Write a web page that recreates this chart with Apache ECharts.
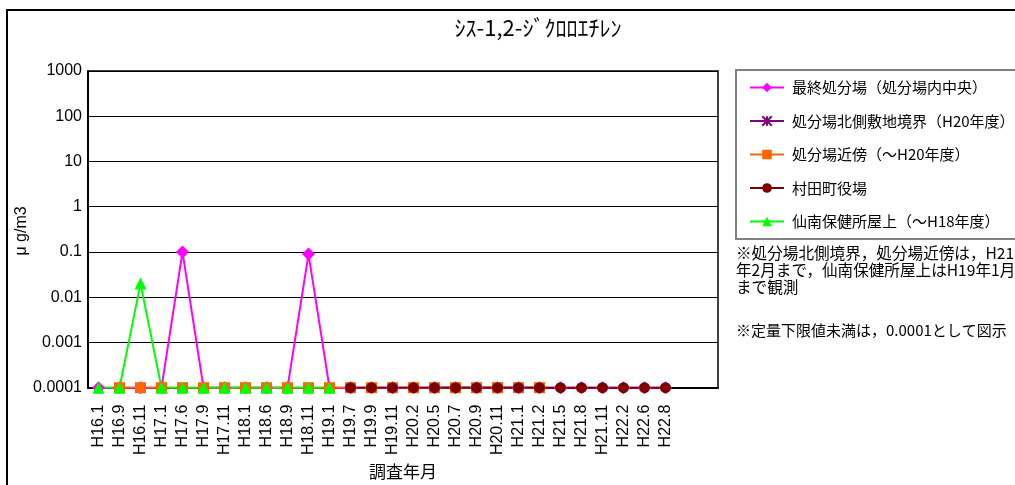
<!DOCTYPE html>
<html>
<head>
<meta charset="utf-8">
<script src="https://cdn.jsdelivr.net/npm/echarts@6/dist/echarts.min.js"></script>
<style>
html,body{margin:0;padding:0;background:#fff;}
#chart{width:1015px;height:485px;}
</style>
</head>
<body>
<div id="chart"></div>
<script>
var categories = ['H16.1','H16.9','H16.11','H17.1','H17.6','H17.9','H17.11','H18.1','H18.6','H18.9','H18.11','H19.1','H19.7','H19.9','H19.11','H20.2','H20.5','H20.7','H20.9','H20.11','H21.1','H21.2','H21.5','H21.8','H21.11','H22.2','H22.6','H22.8','',''];
var yTickLabels = ['0.0001','0.001','0.01','0.1','1','10','100','1000'];
var seriesNames = ['最終処分場（処分場内中央）','処分場北側敷地境界（H20年度）','処分場近傍（～H20年度）','村田町役場','仙南保健所屋上（～H18年度）'];
var finalSite = [0.0001,0.0001,0.0001,0.0001,0.1,0.0001,0.0001,0.0001,0.0001,0.0001,0.09,0.0001,0.0001,0.0001,0.0001,0.0001,0.0001,0.0001,0.0001,0.0001,0.0001,0.0001,0.0001,0.0001,0.0001,0.0001,0.0001,0.0001];
var northBoundary = [null,null,null,null,null,null,null,null,null,null,null,null,null,null,null,null,0.0001,0.0001,0.0001,0.0001,0.0001,0.0001];
var nearSite = [null,0.0001,0.0001,0.0001,0.0001,0.0001,0.0001,0.0001,0.0001,0.0001,0.0001,0.0001,0.0001,0.0001,0.0001,0.0001,0.0001,0.0001,0.0001,0.0001,0.0001,0.0001];
var murataOffice = [null,null,null,null,null,null,null,null,null,null,null,null,0.0001,0.0001,0.0001,0.0001,0.0001,0.0001,0.0001,0.0001,0.0001,0.0001,0.0001,0.0001,0.0001,0.0001,0.0001,0.0001];
var sennanRoof = [0.0001,0.0001,0.02,0.0001,0.0001,0.0001,0.0001,0.0001,0.0001,0.0001,0.0001,0.0001];

var title = 'ｼｽ-1,2-ｼﾞｸﾛﾛｴﾁﾚﾝ';
var yName = 'μ g/m3';
var note1 = ['※処分場北側境界，処分場近傍は，H21', '年2月まで，仙南保健所屋上はH19年1月', 'まで観測'];
var note2 = '※定量下限値未満は，0.0001として図示';

var jp = '"Noto Sans CJK JP", sans-serif';
var lat = '"Liberation Sans", Arial, sans-serif';
var asterisk = 'path://M0,0L10,10M10,0L0,10M5,0L5,10';

function mk(name, data, color, symbol, size, extra) {
  var s = {
    name: name, type: 'line', data: data, symbol: symbol, symbolSize: size,
    lineStyle: {color: color, width: 2},
    itemStyle: {color: color},
    animation: false
  };
  if (extra) Object.assign(s.itemStyle, extra);
  return s;
}

var chart = echarts.init(document.getElementById('chart'));
chart.setOption({
  backgroundColor: '#fff',
  animation: false,
  textStyle: {fontFamily: lat},
  grid: {left: 88, top: 71, right: 297, bottom: 97, show: true, borderColor: '#000', borderWidth: 1.5, containLabel: false},
  title: {text: title, left: 533, top: 12, textAlign: 'center', textStyle: {fontFamily: jp, fontSize: 22, fontWeight: 'normal', color: '#000'}},
  legend: {
    orient: 'vertical', left: 736, top: 70, width: 300,
    padding: [10, 60, 10, 13],
    borderColor: '#808080', borderWidth: 2,
    itemWidth: 34, itemHeight: 12, itemGap: 18.5,
    textStyle: {fontFamily: jp, fontSize: 15, color: '#000', padding: [0, 0, 0, 3]},
    data: seriesNames
  },
  xAxis: {
    type: 'category', data: categories, boundaryGap: true,
    name: '調査年月', nameLocation: 'middle', nameGap: 71,
    nameTextStyle: {fontFamily: jp, fontSize: 17, color: '#000'},
    axisLine: {lineStyle: {color: '#000', width: 2}},
    axisTick: {inside: true, length: 4, lineStyle: {color: '#000'}},
    axisLabel: {interval: 0, rotate: 90, margin: 17, fontSize: 16, color: '#000', fontFamily: lat},
    splitLine: {show: false}
  },
  yAxis: {
    type: 'log', logBase: 10, min: 0.0001, max: 1000,
    axisLine: {show: true, lineStyle: {color: '#000', width: 2}},
    axisTick: {show: false},
    axisLabel: {fontSize: 16, color: '#000', margin: 6, fontFamily: lat,
      formatter: function (v) { var i = Math.round(Math.log10(v)) + 4; return yTickLabels[i] || ''; }},
    splitLine: {show: true, lineStyle: {color: '#000', width: 1}}
  },
  series: [
    mk(seriesNames[0], finalSite, '#FF00FF', 'diamond', 13),
    mk(seriesNames[1], northBoundary, '#800080', asterisk, 10, {color: 'none', borderColor: '#800080', borderWidth: 1.5}),
    mk(seriesNames[2], nearSite, '#FF6600', 'rect', 11),
    mk(seriesNames[3], murataOffice, '#800000', 'circle', 11),
    mk(seriesNames[4], sennanRoof, '#00FF00', 'triangle', 12)
  ],
  graphic: [
    {type: 'rect', shape: {x: 7, y: 10, width: 1100, height: 600}, style: {fill: 'none', stroke: '#000', lineWidth: 2}, silent: true, z: -1},
    {type: 'text', x: 22, y: 231, rotation: Math.PI / 2, style: {text: yName, font: '16px ' + lat, fill: '#000', align: 'center', verticalAlign: 'middle'}},
    {type: 'text', left: 736, top: 245, style: {text: note1.join('\n'), font: '15.6px ' + jp, fill: '#000', lineHeight: 17}},
    {type: 'text', left: 736, top: 323, style: {text: note2, font: '15px ' + jp, fill: '#000'}}
  ]
});
</script>
</body>
</html>
